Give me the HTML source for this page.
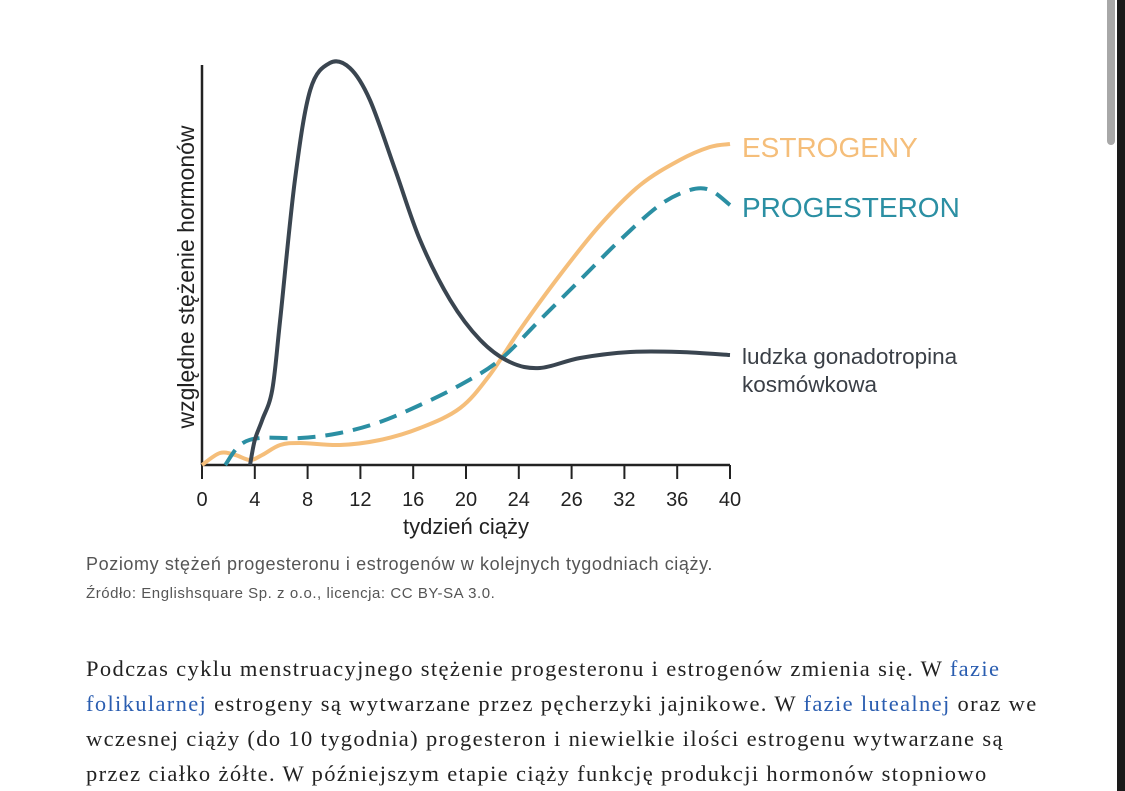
<!DOCTYPE html>
<html><head><meta charset="utf-8">
<style>
body{margin:0;width:1125px;height:791px;background:#fff;overflow:hidden;position:relative;font-family:"Liberation Sans",sans-serif}
.abs{position:absolute}
.cap{left:86px;top:554px;font-size:18px;letter-spacing:0.6px;color:#555;white-space:nowrap}
.src{left:86px;top:585px;font-size:15px;letter-spacing:0.55px;color:#555;white-space:nowrap}
.body{left:86px;top:651px;font-family:"Liberation Serif",serif;font-size:22.5px;letter-spacing:1.35px;line-height:35px;color:#222;white-space:nowrap}
.body a{color:#2a5db0;text-decoration:none}
</style></head><body>
<svg class="abs" style="left:0;top:0" width="1125" height="545" id="chart">
<g id="axes"></g><g id="series"></g>
<text x="742" y="157" font-size="28" fill="#f5be7a">ESTROGENY</text>
<text x="742" y="217" font-size="28" fill="#2b8fa3">PROGESTERON</text>
<text x="742" y="364" font-size="22.5" fill="#3a3f46">ludzka gonadotropina</text>
<text x="742" y="392" font-size="22.5" fill="#3a3f46">kosmówkowa</text>
<text x="466" y="534" font-size="22" fill="#222" text-anchor="middle">tydzień ciąży</text>
<text transform="translate(194,277) rotate(-90)" font-size="23" fill="#222" text-anchor="middle">względne stężenie hormonów</text>
</svg>
<div class="abs cap">Poziomy stężeń progesteronu i estrogenów w kolejnych tygodniach ciąży.</div>
<div class="abs src">Źródło: Englishsquare Sp. z o.o., licencja: CC BY-SA 3.0.</div>
<div class="abs body">Podczas cyklu menstruacyjnego stężenie progesteronu i estrogenów zmienia się. W <a href="#">fazie<br>folikularnej</a> estrogeny są wytwarzane przez pęcherzyki jajnikowe. W <a href="#">fazie lutealnej</a> oraz we<br>wczesnej ciąży (do 10 tygodnia) progesteron i niewielkie ilości estrogenu wytwarzane są<br>przez ciałko żółte. W późniejszym etapie ciąży funkcję produkcji hormonów stopniowo</div>
<div class="abs" style="left:1107px;top:0;width:8px;height:145px;background:#a8a8a8;border-radius:0 0 4px 4px"></div>
<div class="abs" style="left:1117px;top:0;width:8px;height:791px;background:#1a1a1a"></div>
<script>
const tickLabels=["0","4","8","12","16","20","24","26","32","36","40"];
const hcgX=[0.91,1.0,1.14,1.33,1.48,1.76,2.05,2.42,2.80,3.18,3.66,4.13,4.70,5.27,5.83,6.40,7.16,8.11,9.05,10];
const hcgY=[0,6.25,11.25,18.75,36.25,71.25,93.75,100.5,99.25,91.25,73.75,56.25,41.25,31.25,25.75,24.25,26.75,28.25,28.25,27.5];
const estX=[0,0.34,0.63,0.91,1.14,1.48,1.86,2.61,3.37,4.13,4.89,5.45,6.02,6.78,7.54,8.30,9.05,9.62,10];
const estY=[0,3,2.5,1.25,2.5,5,5.5,5,6.25,9.25,14.25,22.5,33.75,47.5,60,70,76.25,79.5,80.25];
const proX=[0.44,0.72,1.1,1.86,2.61,3.37,4.13,4.89,5.64,6.40,7.16,7.92,8.67,9.24,9.62,10];
const proY=[0,5,6.75,6.75,8,10.75,15,20,26.25,36.25,46.25,56.25,65,68.75,68.75,65];
const X0=202,X1=730,Y0=465,Y1=65;
const sx=i=>X0+i*(X1-X0)/(tickLabels.length-1);
const sy=v=>Y0-v*(Y0-Y1)/100;
const NS="http://www.w3.org/2000/svg";
const ax=document.getElementById('axes'),se=document.getElementById('series');
function mk(tag,attrs,parent){const e=document.createElementNS(NS,tag);for(const k in attrs)e.setAttribute(k,attrs[k]);parent.appendChild(e);return e;}
let yl=mk('line',{x1:X0,y1:Y1,x2:X0,y2:Y0,stroke:'#222','stroke-width':2.5},ax);


let xl=mk('line',{x1:X0,y1:Y0,x2:X1,y2:Y0,stroke:'#222','stroke-width':2.5},ax);


tickLabels.forEach((t,i)=>{
  const tk=mk('line',{x1:sx(i),y1:Y0,x2:sx(i),y2:Y0+14,stroke:'#222','stroke-width':2},ax);
  
  
  const tx=mk('text',{x:sx(i),y:Y0+41,'font-size':20,'text-anchor':'middle',fill:'#222'},ax);
  tx.textContent=t;
  
  
});
function path(xs,ys){
  const p=xs.map((x,i)=>[sx(x),sy(ys[i])]);
  let d='M'+p[0][0]+','+p[0][1];
  for(let i=0;i<p.length-1;i++){
    const a=p[Math.max(0,i-1)],b=p[i],c=p[i+1],e=p[Math.min(p.length-1,i+2)];
    d+=' C'+(b[0]+(c[0]-a[0])/6)+','+(b[1]+(c[1]-a[1])/6)+' '+(c[0]-(e[0]-b[0])/6)+','+(c[1]-(e[1]-b[1])/6)+' '+c[0]+','+c[1];
  }
  return d;
}
let e1=mk('path',{d:path(estX,estY),fill:'none',stroke:'#f5be7a','stroke-width':4},se);


let e2=mk('path',{d:path(proX,proY),fill:'none',stroke:'#2b8fa3','stroke-width':4,'stroke-dasharray':'18,10'},se);


let e3=mk('path',{d:path(hcgX,hcgY),fill:'none',stroke:'#3a4550','stroke-width':4},se);


</script>
</body></html>
